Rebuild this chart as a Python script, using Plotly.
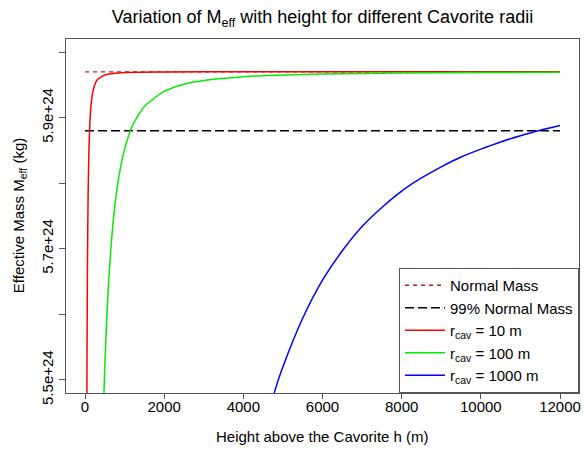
import plotly.graph_objects as go

# ---- data ----
x_range_data = [0, 12000]
normal_mass = 5.970e24
normal_99 = 5.880e24

h_r10 = [30, 40, 50, 60, 70, 80, 100, 125, 150, 200, 300, 500, 1000, 2000, 4000, 8000, 12000]
m_r10 = [4.840, 5.288, 5.520, 5.652, 5.734, 5.788, 5.852, 5.894, 5.917, 5.940, 5.957, 5.965,
         5.9688, 5.9697, 5.9699, 5.970, 5.970]

h_r100 = [400, 450, 500, 550, 600, 700, 800, 900, 1000, 1200, 1500, 2000, 2500, 3000, 4000,
          5000, 6000, 8000, 10000, 12000]
m_r100 = [5.288, 5.421, 5.520, 5.594, 5.652, 5.734, 5.788, 5.825, 5.852, 5.888, 5.917, 5.940,
          5.951, 5.9567, 5.9625, 5.9652, 5.9666, 5.9681, 5.9688, 5.9692]

h_r1000 = [4500, 4800, 5000, 5500, 6000, 6500, 7000, 7500, 8000, 8500, 9000, 9500, 10000,
           10500, 11000, 11500, 12000]
m_r1000 = [5.421, 5.484, 5.520, 5.594, 5.652, 5.697, 5.734, 5.763, 5.788, 5.808, 5.825, 5.840,
           5.852, 5.863, 5.8725, 5.8807, 5.888]

y_tick_vals = [5.5e24, 5.6e24, 5.7e24, 5.8e24, 5.9e24, 6.0e24]
y_tick_text = ["5.5e+24", "", "5.7e+24", "", "5.9e+24", ""]
x_tick_vals = [0, 2000, 4000, 6000, 8000, 10000, 12000]
x_tick_text = ["0", "2000", "4000", "6000", "8000", "10000", "12000"]

FONT = "Liberation Sans, Arial, sans-serif"

fig = go.Figure()
fig.add_trace(go.Scatter(x=x_range_data, y=[normal_mass, normal_mass], mode="lines",
                         name="Normal Mass",
                         line=dict(color="#B22222", width=1.3, dash="4px,4px")))
fig.add_trace(go.Scatter(x=x_range_data, y=[normal_99, normal_99], mode="lines",
                         name="99% Normal Mass",
                         line=dict(color="black", width=1.6, dash="9px,4px")))
fig.add_trace(go.Scatter(x=h_r10, y=[v * 1e24 for v in m_r10], mode="lines",
                         name="r<sub>cav</sub> = 10 m",
                         line=dict(color="#FF0000", width=1.5, shape="spline", smoothing=0.6)))
fig.add_trace(go.Scatter(x=h_r100, y=[v * 1e24 for v in m_r100], mode="lines",
                         name="r<sub>cav</sub> = 100 m",
                         line=dict(color="#00EE00", width=1.5, shape="spline", smoothing=0.6)))
fig.add_trace(go.Scatter(x=h_r1000, y=[v * 1e24 for v in m_r1000], mode="lines",
                         name="r<sub>cav</sub> = 1000 m",
                         line=dict(color="#0000FF", width=1.5, shape="spline", smoothing=0.6)))

fig.update_layout(
    width=585, height=449,
    margin=dict(l=66, r=4, t=39, b=56),
    paper_bgcolor="white", plot_bgcolor="white",
    font=dict(family=FONT, size=15, color="black"),
    title=dict(text="Variation of M<sub>eff</sub> with height for different Cavorite radii",
               x=0.5, xref="paper", xanchor="center", y=0.962, yanchor="middle",
               font=dict(size=18, family=FONT, color="black")),
    showlegend=True,
    legend=dict(x=1, xanchor="right", y=0, yanchor="bottom", bgcolor="white",
                bordercolor="#555", borderwidth=1, font=dict(size=15, family=FONT),
                tracegroupgap=0, itemwidth=40),
    xaxis=dict(range=[-480, 12480], tickvals=x_tick_vals, ticktext=x_tick_text,
               ticks="outside", ticklen=5, ticklabelstandoff=-5,
               tickcolor="#555", showgrid=False, zeroline=False, showline=True,
               linecolor="#555", mirror=True, tickfont=dict(size=15)),
    yaxis=dict(range=[5.48e24, 6.02e24], tickvals=y_tick_vals, ticktext=y_tick_text,
               ticks="outside", ticklen=6, tickcolor="#555", tickangle=-90,
               showgrid=False, zeroline=False, showline=True, linecolor="#555",
               mirror=True, tickfont=dict(size=15)),
    annotations=[
        dict(text="Height above the Cavorite h (m)", xref="paper", yref="paper",
             x=0.5, y=-0.1215, xanchor="center", yanchor="middle", showarrow=False,
             font=dict(size=15)),
        dict(text="Effective Mass M<sub>eff</sub> (kg)", xref="paper", yref="paper",
             x=-0.0913, y=0.5, xanchor="center", yanchor="middle", showarrow=False,
             textangle=-90, font=dict(size=15)),
    ],
)

fig.write_html("out.html", config={"displayModeBar": False},
               post_script="document.body.style.margin='0px';document.body.style.overflow='hidden';")
